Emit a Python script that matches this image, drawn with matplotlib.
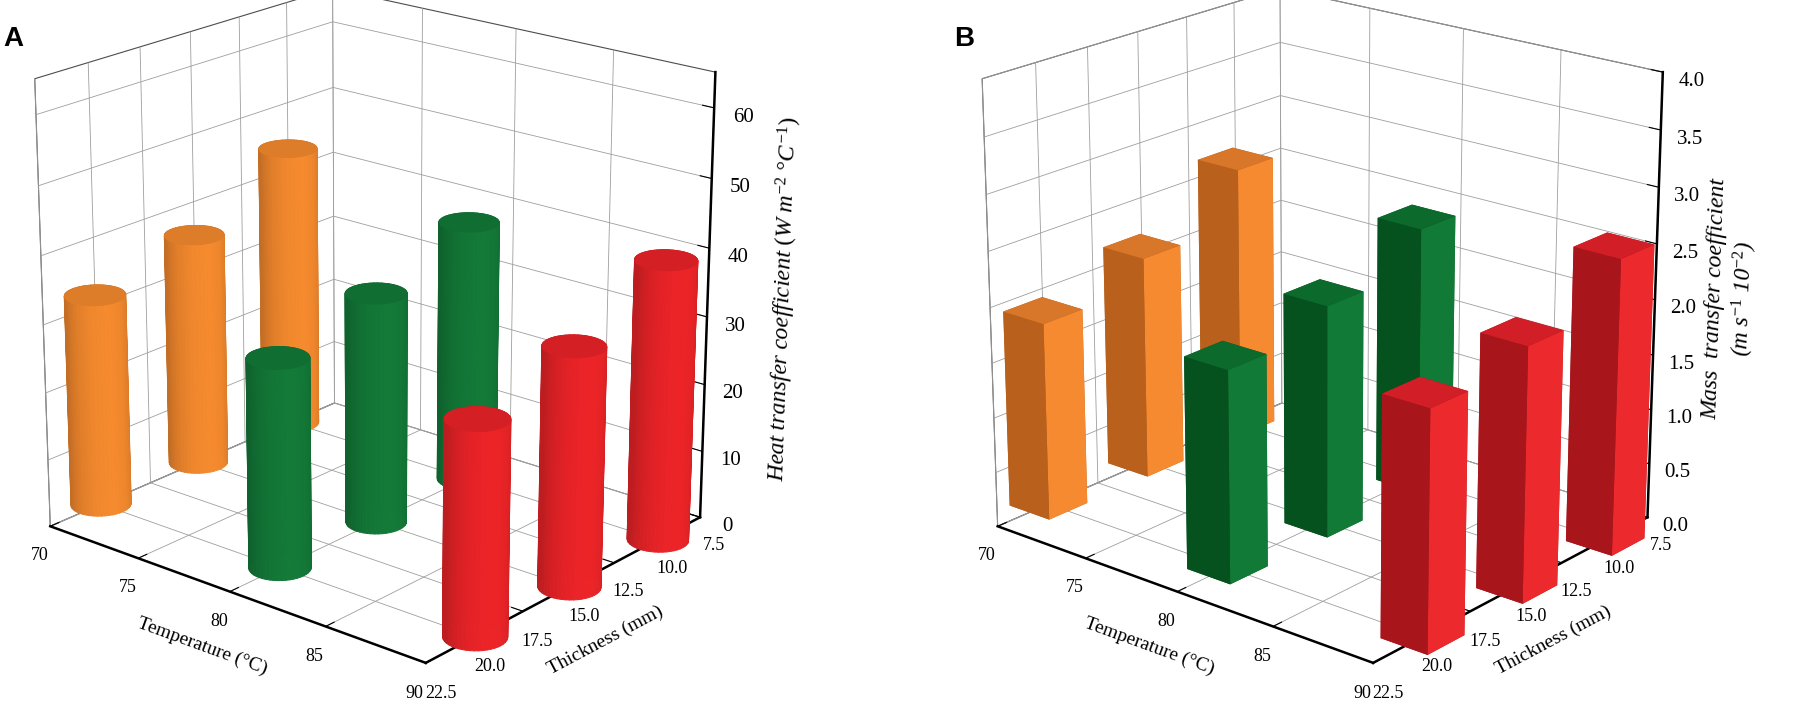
import numpy as np
import matplotlib
matplotlib.use("Agg")
import matplotlib.pyplot as plt
from mpl_toolkits.mplot3d.art3d import Poly3DCollection

plt.rcParams['font.family'] = ['Liberation Serif', 'DejaVu Serif']
plt.rcParams['mathtext.fontset'] = 'custom'
plt.rcParams['mathtext.rm'] = 'Liberation Serif'
plt.rcParams['mathtext.it'] = 'Liberation Serif:italic'

# data: rows = temperature, columns = thickness
temperature = [70, 80, 90]
thickness = [20.0, 15.0, 10.0]
heat_coef = [[31.5, 35.0, 43.0],
             [30.5, 34.0, 39.0],
             [30.5, 34.5, 41.0]]
mass_coef = [[1.80, 2.05, 2.55],
             [1.90, 2.10, 2.45],
             [2.10, 2.25, 2.65]]

temp_ticks = [70, 75, 80, 85, 90]
thick_ticks = [7.5, 10.0, 12.5, 15.0, 17.5, 20.0, 22.5]

cyl_colors = ['#F58A2E', '#137A38', '#EC2428']
box_side = ['#F58A30', '#127A37', '#EC2A2E']
box_dark = ['#B8601C', '#06521F', '#A8161C']
box_top = ['#D8762A', '#0D6A2D', '#D21E26']

AZIM, ELEV = 40, 20
FOCAL = 0.8


def style_axes(ax, zmax, zticks, zfmt, zlabel):
    ax.set_xlim(7.5, 22.5)
    ax.set_ylim(70, 90)
    ax.set_zlim(0, zmax)
    ax.set_xticks(thick_ticks)
    ax.set_xticklabels(['%.1f' % t for t in thick_ticks])
    ax.set_yticks(temp_ticks)
    ax.set_zticks(zticks)
    ax.set_zticklabels([zfmt % z for z in zticks])
    for axis in (ax.xaxis, ax.yaxis, ax.zaxis):
        axis.set_pane_color((1, 1, 1, 1))
        axis.pane.set_edgecolor('0.3')
        axis.pane.set_linewidth(0.8)
        axis._axinfo['grid'].update(color='0.62', linewidth=0.6)
        axis._axinfo['tick'].update(inward_factor=0.0, outward_factor=0.35)
        axis.line.set_linewidth(1.8)
        axis.line.set_color('black')
    ax.zaxis.set_ticks_position('upper')
    ax.zaxis.set_label_position('upper')
    ax.tick_params(axis='x', labelsize=13, pad=3)
    ax.tick_params(axis='y', labelsize=13, pad=3)
    ax.tick_params(axis='z', labelsize=15, pad=5)
    ax.set_xlabel('Thickness (mm)', fontsize=14, labelpad=7)
    ax.set_ylabel('Temperature (°C)', fontsize=14, labelpad=7)
    ax.set_zlabel(zlabel, fontsize=17, labelpad=14)
    ax.view_init(elev=ELEV, azim=AZIM)


def shade(c, f):
    rgb = np.array(matplotlib.colors.to_rgb(c))
    return tuple(np.clip(rgb * f, 0, 1))


def cylinder(ax, xc, yc, h, rx, ry, color, n=48):
    u = np.linspace(0, 2 * np.pi, n + 1)
    light = np.deg2rad(AZIM + 25)
    polys, cols = [], []
    for k in range(n):
        a0, a1 = u[k], u[k + 1]
        x0, y0 = xc + rx * np.cos(a0), yc + ry * np.sin(a0)
        x1, y1 = xc + rx * np.cos(a1), yc + ry * np.sin(a1)
        polys.append([(x0, y0, 0), (x1, y1, 0), (x1, y1, h), (x0, y0, h)])
        f = 0.80 + 0.20 * max(0.0, np.cos((a0 + a1) / 2 - light))
        cols.append(shade(color, f))
    polys.append([(xc + rx * np.cos(a), yc + ry * np.sin(a), h) for a in u[:-1]])
    cols.append(shade(color, 0.9))
    pc = Poly3DCollection(polys, facecolors=cols, edgecolors=cols, linewidths=0.7)
    ax.add_collection3d(pc)


fig = plt.figure(figsize=(18.08, 7.04), dpi=100)

# ---- A: cylinders
axA = fig.add_axes([-0.078, -0.022, 0.56, 1.15], projection='3d', proj_type='persp', focal_length=FOCAL)
axA.set_box_aspect((0.9, 1.0, 0.96), zoom=0.98)
for i, t in enumerate(temperature):
    for j, th in enumerate(thickness):
        cylinder(axA, th, t, heat_coef[i][j], 1.05, 1.25, cyl_colors[i])
style_axes(axA, 65, list(range(0, 61, 10)), '%d',
           r'$\it{Heat\ transfer\ coefficient\ (W\ m^{-2}\ °C^{-1})}$')
fig.text(0.002, 0.935, 'A', fontsize=20, fontweight='bold', family='Liberation Sans')

# ---- B: boxes
axB = fig.add_axes([0.446, -0.022, 0.56, 1.15], projection='3d', proj_type='persp', focal_length=FOCAL)
axB.set_box_aspect((0.9, 1.0, 0.96), zoom=0.98)
dx, dy = 1.9, 2.3
for i, t in enumerate(temperature):
    for j, th in enumerate(thickness):
        h = mass_coef[i][j]
        faces = [box_dark[i], box_top[i], box_dark[i], box_side[i], box_dark[i], box_dark[i]]
        axB.bar3d(th - dx / 2, t - dy / 2, 0, dx, dy, h, color=faces, shade=False,
                  edgecolor='none')
style_axes(axB, 4.0, [x / 2 for x in range(9)], '%.1f',
           'Mass  transfer coefficient\n' + r'(m s$^{-1}$ 10$^{-2}$)')
axB.zaxis.label.set_style('italic')
fig.text(0.528, 0.935, 'B', fontsize=20, fontweight='bold', family='Liberation Sans')

fig.savefig('out.png', dpi=100, facecolor='white')
